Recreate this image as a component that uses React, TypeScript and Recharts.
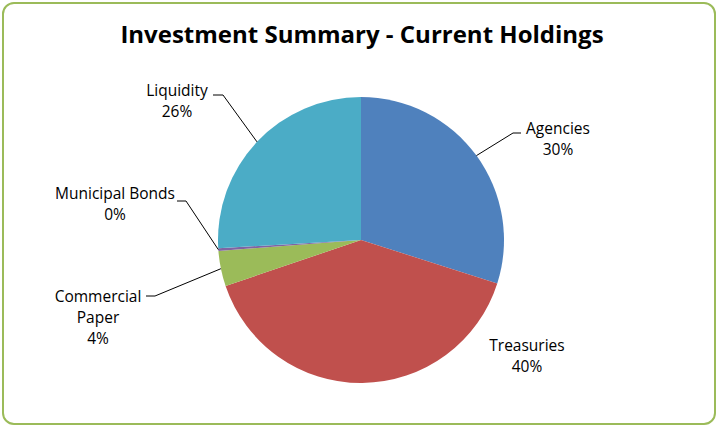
import { PieChart, Pie, Cell } from 'recharts';

const categories = ['Agencies', 'Treasuries', 'Commercial Paper', 'Municipal Bonds', 'Liquidity'];
const holdings = [30, 40, 4, 0.3, 26];
const colors = ['#4F81BD', '#C0504D', '#9BBB59', '#8064A2', '#4BACC6'];

const chartData = categories.map((name, i) => ({ name, value: holdings[i] }));

// label layout, offsets from the pie centre
const labelLayout: Record<string, { dx: number; dy: number; wrap?: boolean; elbow?: [number, number]; end?: [number, number] }> = {
  Agencies: { dx: 197, dy: -112, elbow: [152, -107], end: [160, -107] },
  Treasuries: { dx: 166, dy: 105 },
  'Commercial Paper': { dx: -263, dy: 56, wrap: true, elbow: [-206, 56], end: [-215, 56] },
  'Municipal Bonds': { dx: -246, dy: -47, elbow: [-175, -39], end: [-184, -39] },
  Liquidity: { dx: -184, dy: -150, elbow: [-138, -145], end: [-148, -145] },
};

const RAD = Math.PI / 180;
const FONT = '"Open Sans", Lato, sans-serif';

function renderLabel(props: any) {
  const { cx, cy, midAngle, outerRadius, name, percent } = props;
  const cfg = labelLayout[name];
  if (!cfg) return null;
  const lines = cfg.wrap ? name.split(' ') : [name];
  lines.push(`${Math.round(percent * 100)}%`);
  const sx = cx + outerRadius * Math.cos(-midAngle * RAD);
  const sy = cy + outerRadius * Math.sin(-midAngle * RAD);
  return (
    <g>
      {cfg.elbow && cfg.end && (
        <polyline
          points={`${sx},${sy} ${cx + cfg.elbow[0]},${cy + cfg.elbow[1]} ${cx + cfg.end[0]},${cy + cfg.end[1]}`}
          fill="none"
          stroke="#000"
          strokeWidth={1}
        />
      )}
      <text x={cx + cfg.dx} y={cy + cfg.dy} textAnchor="middle" dominantBaseline="central" fontFamily={FONT} fontSize={15.5} fill="#000">
        {lines.map((l: string, i: number) => (
          <tspan key={i} x={cx + cfg.dx} dy={i === 0 ? 0 : 21}>
            {l}
          </tspan>
        ))}
      </text>
    </g>
  );
}

export default function App() {
  return (
    <div style={{ position: 'absolute', left: 0, top: 0, width: 717, height: 426, background: '#fff' }}>
      <div
        style={{
          position: 'absolute',
          left: 2,
          top: 2,
          width: 710,
          height: 419,
          border: '2px solid #9BBB59',
          borderRadius: 12,
        }}
      />
      <div
        style={{
          position: 'absolute',
          left: 0,
          top: 18,
          width: 724,
          textAlign: 'center',
          fontFamily: FONT,
          fontWeight: 700,
          fontSize: 24,
          lineHeight: '32px',
          color: '#000',
        }}
      >
        Investment Summary - Current Holdings
      </div>
      <div style={{ position: 'absolute', left: 0, top: 0 }}>
        <PieChart width={717} height={426}>
          <Pie
            data={chartData}
            dataKey="value"
            nameKey="name"
            cx={356}
            cy={235}
            outerRadius={143}
            startAngle={90}
            endAngle={-270}
            stroke="none"
            label={renderLabel}
            labelLine={false}
            isAnimationActive={false}
          >
            {chartData.map((d, i) => (
              <Cell key={d.name} fill={colors[i]} />
            ))}
          </Pie>
        </PieChart>
      </div>
    </div>
  );
}
